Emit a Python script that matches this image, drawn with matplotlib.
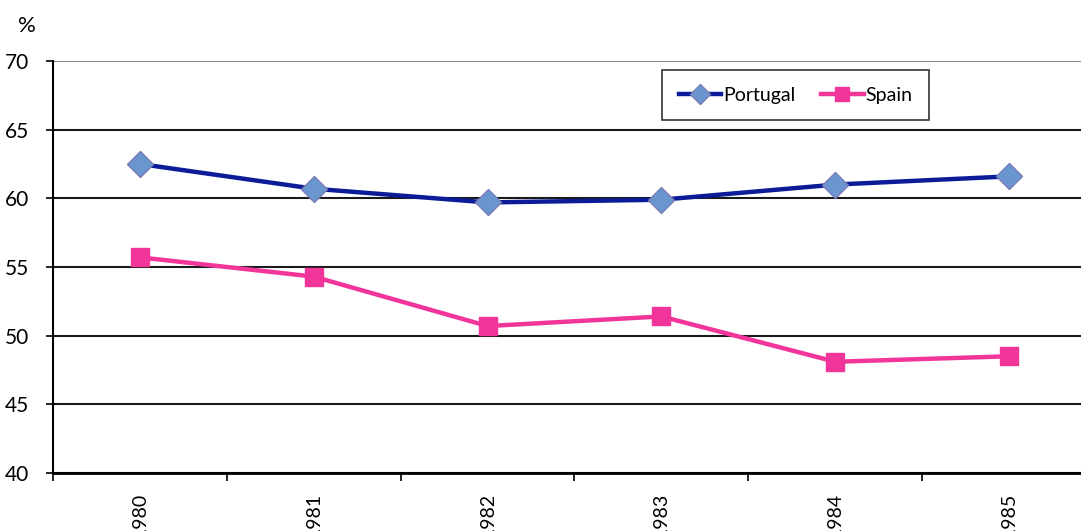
import matplotlib.pyplot as plt
import numpy as np

years = ["1980", "1981", "1982", "1983", "1984", "1985"]
portugal = [62.5, 60.7, 59.7, 59.9, 61.0, 61.6]
spain = [55.7, 54.3, 50.7, 51.4, 48.1, 48.5]

plt.rcParams['font.family'] = ['Lato', 'DejaVu Sans']

fig = plt.figure(figsize=(10.81, 5.31), dpi=100)
# plot area runs past the right edge of the picture, as in the reference
ax = fig.add_axes([53 / 1081, 58 / 531, 1043 / 1081, 412 / 531])

x = np.arange(len(years))
ax.plot(x, portugal, color="#0B1C99", lw=3.2, marker="D", ms=13,
        mfc="#6A96CF", mec="#7B7BB5", mew=1, label="Portugal", zorder=3)
ax.plot(x, spain, color="#F2359A", lw=3.2, marker="s", ms=12.5,
        mfc="#F2359A", mec="#F2359A", label="Spain", zorder=3)

ax.set_xlim(-0.5, 5.5)
ax.set_ylim(40, 70)
ax.set_yticks(range(40, 71, 5))
ax.set_xticks(x)
ax.set_xticklabels(years, rotation=90, fontsize=14)
ax.set_xticks(np.arange(-0.5, 5.6, 1), minor=True)
ax.tick_params(axis="x", which="major", length=0, pad=14)
ax.tick_params(axis="x", which="minor", length=6, width=1.2, direction="out")
ax.tick_params(axis="y", length=5, width=1.2, labelsize=15, pad=12)

ax.grid(axis="y", color="#1a1a1a", lw=1.5)
ax.get_ygridlines()[-1].set_color("#888888")
ax.set_axisbelow(True)
for s in ["top", "right"]:
    ax.spines[s].set_visible(False)
ax.spines["left"].set_linewidth(1.5)
ax.spines["bottom"].set_linewidth(2)

fig.text(27 / 1081, 1 - 26 / 531, "%", fontsize=16, ha="center", va="center")

leg = ax.legend(loc="upper left", bbox_to_anchor=((662 - 53) / 1043, (473 - 70) / 412),
                borderaxespad=0, ncol=2, frameon=True, fancybox=False, edgecolor="black",
                fontsize=14, handlelength=2.2, handletextpad=0.1, columnspacing=1.3,
                borderpad=0.85, markerscale=0.75)
leg.get_frame().set_linewidth(1.2)

fig.savefig("out.png", dpi=100)
